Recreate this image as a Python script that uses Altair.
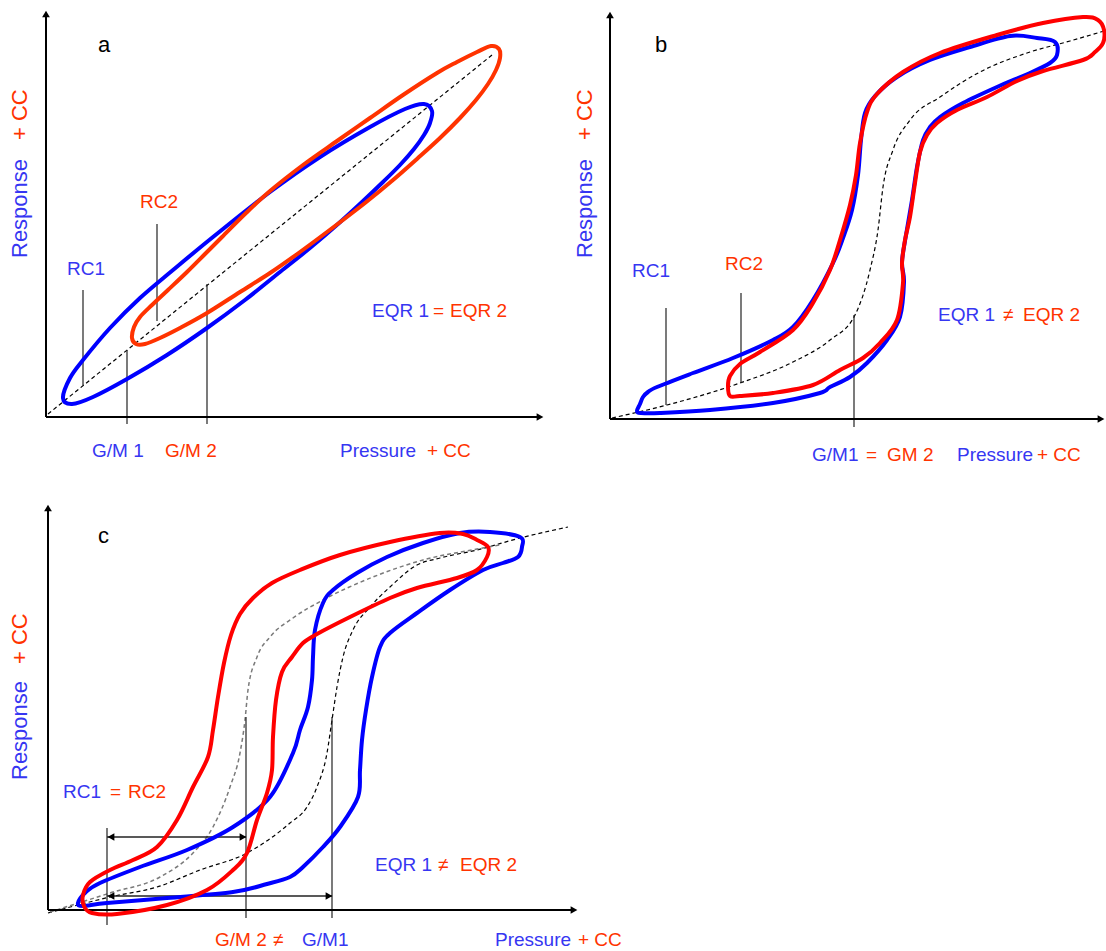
import altair as alt
import pandas as pd

W, H = 1106, 951

# ---------------- data (canvas units) ----------------
LOOP_A_BLUE = [(63,398),(70,378),(83,360),(110,328),(140,298),(173,270),(213,237),(270,192),
               (320,157),(370,127),(405,109),(424,104),(432,111),(430,123),(424,135),(414,149),
               (400,165),(383,182),(362,202),(338,224),(310,248),(280,272),(245,300),(207,328),
               (167,355),(127,379),(93,397),(72,404)]
LOOP_A_RED = [(132,338),(134,327),(140,317),(152,305),(168,290),(187,272),(205,254),(222,237),
              (245,214),(270,191),(303,165),(337,141),(370,118),(403,95),(437,73),(457,62),
              (477,52),(491,46),(499,49),(500,58),(496,70),(488,84),(476,100),(460,118),
              (440,138),(418,158),(393,180),(365,203),(335,226),(300,252),(270,273),(240,292),
              (207,313),(180,328),(160,338),(145,344),(136,344)]
LOOP_B_BLUE = [(637,411),(640,404),(643,397),(648,392),(657,387),(693,373),(733,358),(773,340),
               (793,327),(813,300),(833,263),(843,238),(852,210),(858,175),(861,140),(865,113),
               (875,96),(897,77),(930,60),(970,47),(1010,36),(1037,38),(1055,42),(1057,55),
               (1050,63),(1030,73),(997,87),(963,103),(940,117),(930,127),(923,140),(917,167),
               (912,200),(906,235),(902,262),(904,282),(900,317),(887,340),(867,363),(850,377),
               (830,387),(820,393),(773,403),(710,410),(660,413),(641,413)]
LOOP_B_RED = [(730,396),(728,386),(730,376),(740,364),(760,352),(793,330),(813,303),(830,270),
              (840,240),(850,205),(856,175),(860,143),(867,112),(877,94),(903,72),(940,53),
              (997,35),(1043,23),(1083,17),(1098,20),(1104,30),(1103,43),(1095,52),(1083,60),
              (1043,71),(1017,81),(987,97),(957,110),(937,123),(927,135),(920,152),(915,183),
              (910,217),(905,240),(902,263),(903,283),(897,320),(880,343),(863,358),(840,370),
              (813,385),(773,393),(740,396)]
LOOP_C_BLUE = [(78,903),(86,892),(100,883),(140,867),(187,850),(233,827),(270,797),(293,753),
               (300,730),(308,707),(312,680),(313,657),(315,630),(323,603),(333,590),(357,573),
               (387,557),(423,543),(460,533),(490,532),(520,537),(522,547),(518,557),(503,563),
               (483,570),(450,590),(417,613),(390,633),(380,647),(372,677),(366,710),(362,740),
               (360,770),(358,797),(340,827),(323,847),(303,867),(290,877),(267,884),(233,892),
               (167,898),(107,903),(83,906)]
LOOP_C_RED = [(83,895),(84,906),(92,913),(117,914),(167,905),(207,890),(233,870),(247,853),
              (257,820),(267,793),(272,770),(273,737),(276,700),(282,672),(292,657),(303,643),
              (317,634),(350,617),(390,598),(417,588),(457,578),(477,570),(487,557),(488,547),
              (477,540),(463,534),(440,533),(390,542),(340,555),(300,570),(272,583),(253,598),
              (240,614),(231,635),(224,663),(218,697),(213,730),(208,757),(193,787),(177,820),
              (157,847),(133,860),(110,870),(90,882)]

DASH_A = [(48,414),(492,55)]
DASH_B = [(612,418),(667,405),(740,383),(793,362),(830,340),(855,315),(870,270),(878,230),
          (883,187),(893,150),(910,120),(940,97),(980,72),(1030,52),(1070,41),(1104,31)]
DASH_C_BLACK = [(48,913),(110,897),(157,887),(200,870),(247,853),(290,823),(307,807),(317,787),
                (327,753),(332,720),(337,687),(343,657),(353,630),(370,607),(390,587),(417,565),
                (440,558),(477,550),(520,538),(568,527)]
DASH_C_GRAY = [(50,912),(110,893),(160,877),(193,853),(213,827),(230,787),(240,753),(245,720),
               (248,690),(257,657),(270,637),(293,618),(323,600),(373,577),(423,560),(477,549),
               (500,545)]

# vertical marker lines (x, top, bottom)
VLINES = [(83,290,385),(157,224,321),(127,350,424),(207,284,424),
          (666,308,405),(741,293,383),(854,315,427),
          (107,828,925),(246,717,918),(332,717,918)]
# double-headed range arrows in panel c (y, x-left, x-right)
HARROWS = [(837,107,246),(896,107,332)]
# axes (x1, y1, x2, y2)
AXES = [(46,14,46,417),(46,417,540,417),
        (610,15,610,419),(610,419,1101,419),
        (48,508,48,910),(48,910,574,910)]
# arrow heads (x, y, shape)
HEADS = [(46,14,"triangle-up"),(540,417,"triangle-right"),
         (610,15,"triangle-up"),(1101,419,"triangle-right"),
         (48,508,"triangle-up"),(574,910,"triangle-right"),
         (111,837,"triangle-left"),(243,837,"triangle-right"),
         (111,896,"triangle-left"),(329,896,"triangle-right")]

BLUE_T = "#3636f2"
RED_T = "#ff3300"
LABELS = [
    ("a",98,52,"black",22), ("b",655,52,"black",22), ("c",98,543,"black",22),
    ("RC1",67,275,BLUE_T,19), ("RC2",140,208,RED_T,19),
    ("G/M 1",92,457,BLUE_T,19), ("G/M 2",165,457,RED_T,19),
    ("EQR 1",372,317,BLUE_T,19), ("=",433,317,RED_T,19), ("EQR 2",450,317,RED_T,19),
    ("Pressure",340,457,BLUE_T,19), ("+ CC",427,457,RED_T,19),
    ("RC1",632,277,BLUE_T,19), ("RC2",725,270,RED_T,19),
    ("EQR 1",938,321,BLUE_T,19), ("≠",1003,321,RED_T,19), ("EQR 2",1023,321,RED_T,19),
    ("G/M1",812,461,BLUE_T,19), ("=",866,461,RED_T,19), ("GM 2",887,461,RED_T,19),
    ("Pressure",957,461,BLUE_T,19), ("+ CC",1037,461,RED_T,19),
    ("RC1",63,798,BLUE_T,19), ("=",110,798,RED_T,19), ("RC2",128,798,RED_T,19),
    ("EQR 1",375,871,BLUE_T,19), ("≠",438,871,RED_T,19), ("EQR 2",460,871,RED_T,19),
    ("G/M 2",215,946,RED_T,19), ("≠",273,946,RED_T,19), ("G/M1",302,946,BLUE_T,19),
    ("Pressure",495,946,BLUE_T,19), ("+ CC",578,946,RED_T,19),
]
YTITLES = [("Response",27,258,BLUE_T),("+ CC",27,140,RED_T),
           ("Response",592,258,BLUE_T),("+ CC",592,140,RED_T),
           ("Response",27,780,BLUE_T),("+ CC",27,664,RED_T)]

# ---------------- tables ----------------
def loop_df(loops):
    rows = []
    for name, color, pts in loops:
        for i, (x, y) in enumerate(pts):
            rows.append({"loop": name, "i": i, "x": x, "y": y, "color": color})
    return pd.DataFrame(rows)

blue_loops = loop_df([("a_blue", "#0000ff", LOOP_A_BLUE),
                      ("b_blue", "#0000ff", LOOP_B_BLUE),
                      ("c_blue", "#0000ff", LOOP_C_BLUE)])
red_loops = loop_df([("a_red", "#ff3300", LOOP_A_RED),
                     ("b_red", "#ff0000", LOOP_B_RED),
                     ("c_red", "#ff0000", LOOP_C_RED)])
dash_black = loop_df([("da", "black", DASH_A), ("db", "black", DASH_B), ("dc", "black", DASH_C_BLACK)])
dash_gray = loop_df([("dg", "#7a7a7a", DASH_C_GRAY)])

vl_df = pd.DataFrame(VLINES, columns=["x", "y", "y2"])
ha_df = pd.DataFrame(HARROWS, columns=["y", "x", "x2"])
ax_df = pd.DataFrame(AXES, columns=["x", "y", "x2", "y2"])
hd_df = pd.DataFrame(HEADS, columns=["x", "y", "shape"])
lb_df = pd.DataFrame(LABELS, columns=["text", "x", "y", "color", "size"])
yt_df = pd.DataFrame(YTITLES, columns=["text", "x", "y", "color"])

XS = alt.Scale(domain=[0, W], nice=False, zero=False)
YS = alt.Scale(domain=[0, H], nice=False, zero=False, reverse=True)
X = alt.X("x:Q", scale=XS, axis=None)
Y = alt.Y("y:Q", scale=YS, axis=None)

dashed = alt.Chart(dash_black).mark_line(
    color="black", strokeWidth=1.2, strokeDash=[4, 3], interpolate="monotone"
).encode(x=X, y=Y, detail="loop:N")
dashed_gray = alt.Chart(dash_gray).mark_line(
    color="#7a7a7a", strokeWidth=1.5, strokeDash=[4, 3], interpolate="monotone"
).encode(x=X, y=Y, detail="loop:N")

vlines = alt.Chart(vl_df).mark_rule(color="#222222", strokeWidth=1.2).encode(
    x=X, y=Y, y2="y2:Q")
harrows = alt.Chart(ha_df).mark_rule(color="#222222", strokeWidth=1.4).encode(
    x=X, x2="x2:Q", y=Y)
axes = alt.Chart(ax_df).mark_rule(color="black", strokeWidth=2).encode(
    x=X, y=Y, x2="x2:Q", y2="y2:Q")
heads = alt.Chart(hd_df).mark_point(filled=True, color="black", opacity=1, size=60).encode(
    x=X, y=Y, shape=alt.Shape("shape:N", scale=None))

blue = alt.Chart(blue_loops).mark_line(strokeWidth=4, interpolate="cardinal-closed").encode(
    x=X, y=Y, detail="loop:N", order="i:Q", color=alt.Color("color:N", scale=None))
red = alt.Chart(red_loops).mark_line(strokeWidth=4, interpolate="cardinal-closed").encode(
    x=X, y=Y, detail="loop:N", order="i:Q", color=alt.Color("color:N", scale=None))

labels = alt.Chart(lb_df).mark_text(
    align="left", baseline="alphabetic", font="Liberation Sans"
).encode(x=X, y=Y, text="text:N", color=alt.Color("color:N", scale=None),
         size=alt.Size("size:Q", scale=None))
ytitles = alt.Chart(yt_df).mark_text(
    align="left", baseline="alphabetic", angle=270, font="Liberation Sans", fontSize=22
).encode(x=X, y=Y, text="text:N", color=alt.Color("color:N", scale=None))

chart = alt.layer(
    dashed, dashed_gray, vlines, harrows, axes, heads, blue, red, labels, ytitles
).properties(
    width=W, height=H, padding=0, autosize=alt.AutoSizeParams(type="none")
).configure_view(stroke=None)

chart.save("out.html", embed_options={"renderer": "svg", "actions": False})
